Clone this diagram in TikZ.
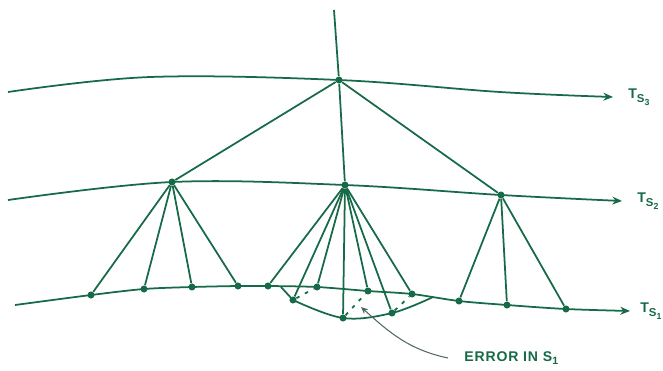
\documentclass[tikz,border=0pt]{standalone}
\usepackage{fontspec}
\setmainfont{Liberation Sans}
\usepackage{tikz}
\usetikzlibrary{arrows.meta,positioning}
\definecolor{tsgreen}{RGB}{22,106,72}
\definecolor{tsgrey}{RGB}{80,105,100}
\newcommand{\tslabel}[1]{T\raisebox{-0.5ex}{\fontsize{6.5}{7}\selectfont S\raisebox{-0.45ex}{\fontsize{5}{6}\selectfont #1}}}

\begin{document}
\begin{tikzpicture}[x=0.02cm, y=-0.02cm,
  tdot/.style={circle, fill=tsgreen, inner sep=0pt, minimum size=4pt},
  tline/.style={draw=tsgreen, line width=1pt},
  tarr/.style={tline, -{Stealth[length=5.5pt,width=4.5pt]}},
  tdash/.style={draw=tsgreen, line width=1pt, dash pattern=on 2pt off 3.5pt},
  tlab/.style={font=\bfseries\fontsize{8}{9}\selectfont, text=tsgreen, inner sep=0pt},
  lead/.style={draw=tsgrey, line width=0.6pt, -{Stealth[length=4pt,width=3.5pt]}}
]
\useasboundingbox (0,0) rectangle (663,370);

% Grid points on the three surfaces
\node[tdot] (t3) at (339,80) {};
\node[tdot] (t2l) at (172,182) {};
\node[tdot] (t2m) at (345,185) {};
\node[tdot] (t2r) at (501,195) {};
\foreach \n/\x/\y in {1/91/295, 2/144/289, 3/192/287, 4/238/286, 5/268/286, 6/317/287,
                      7/368/291, 8/412/294, 9/459/301, 10/507/305, 11/566/309}
  \node[tdot] (p\n) at (\x,\y) {};
\node[tdot] (er1) at (293,300) {};
\node[tdot] (er2) at (343,318) {};
\node[tdot] (er3) at (392,313) {};

% Curve ends
\coordinate (w3) at (8,92);   \coordinate (k3) at (150,77);
\coordinate (m3) at (500,92); \coordinate (z3) at (613,97);
\coordinate (w2) at (8,200);  \coordinate (z2) at (622,201);
\coordinate (w1) at (15,305); \coordinate (z1) at (630,311);
\coordinate (top) at (334,10);
\coordinate (ea) at (281,287);
\coordinate (eb) at (433,297);
\coordinate (lhead) at (361,307);
\coordinate (lend) at (448,358);

% Surfaces
\draw[tarr] plot[smooth, tension=0.6] coordinates {(w3) (k3) (t3.center) (m3) (z3)};
\draw[tarr] plot[smooth, tension=0.6] coordinates {(w2) (t2l.center) (t2m.center) (t2r.center) (z2)};
\draw[tarr] plot[smooth, tension=0.5] coordinates {(w1) (p1.center) (p2.center) (p3.center) (p4.center)
  (p5.center) (p6.center) (p7.center) (p8.center) (p9.center) (p10.center) (p11.center) (z1)};

% Links
\draw[tline] (top) -- (t3);
\foreach \p in {t2l,t2m,t2r} \draw[tline] (t3) -- (\p);
\foreach \p in {p1,p2,p3,p4} \draw[tline] (t2l) -- (\p);
\foreach \p in {p5,er1,p6,er2,p7,er3,p8} \draw[tline] (t2m) -- (\p);
\foreach \p in {p9,p10,p11} \draw[tline] (t2r) -- (\p);

% Error arc
\draw[tline] (ea) -- (er1.center);
\draw[tline] plot[smooth, tension=0.6] coordinates {(er1.center) (er2.center) (er3.center) (eb)};
\draw[tdash] (er1) -- (p6);
\draw[tdash] (er2) -- (p7);
\draw[tdash] (er3) -- (p8);

% Labels
\node[tlab, right=0.3cm of z3] (l3) {\tslabel{3}};
\node[tlab, right=0.3cm of z2] (l2) {\tslabel{2}};
\node[tlab, right=0.2cm of z1] (l1) {\tslabel{1}};
\node[tlab, right=0.32cm of lend] (err) {\addfontfeature{LetterSpace=6}ERROR IN S\raisebox{-0.4ex}{\fontsize{6}{7}\selectfont 1}};
\draw[lead] (lend) to[out=168, in=-42] (lhead);
\end{tikzpicture}
\end{document}
